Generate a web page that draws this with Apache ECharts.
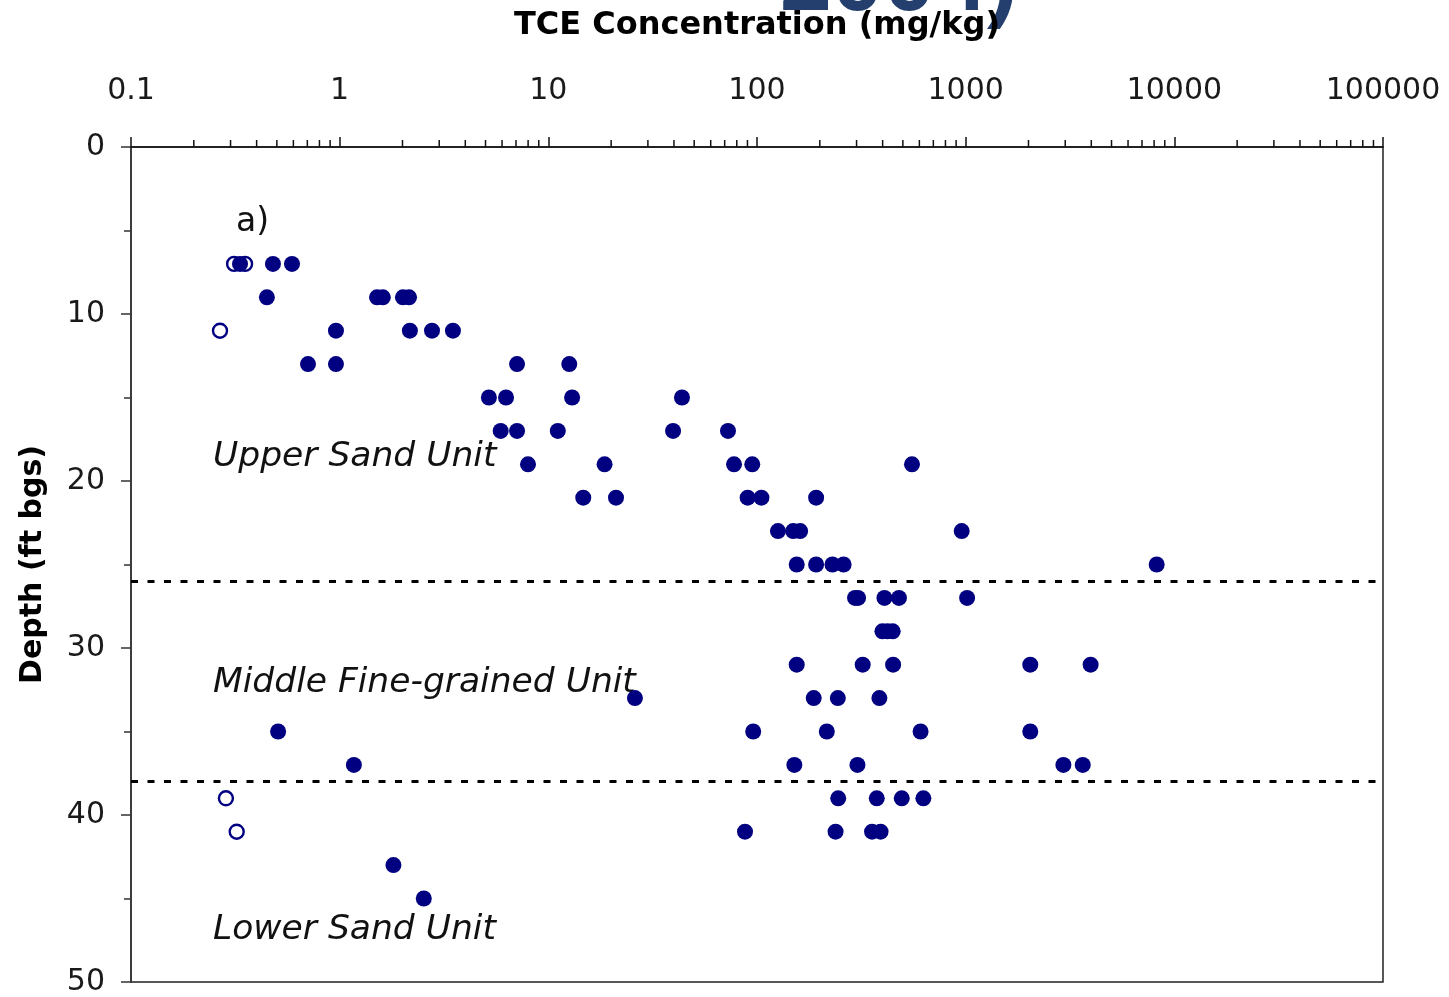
<!DOCTYPE html>
<html>
<head>
<meta charset="utf-8">
<script src="https://cdn.jsdelivr.net/npm/echarts@6/dist/echarts.min.js"></script>
<style>
  html, body { margin: 0; padding: 0; background: #fff; overflow: hidden; }
  #chart { width: 1449px; height: 997px; }
</style>
</head>
<body>
<div id="chart"></div>
<script>
// TCE concentration (mg/kg) versus sample depth (ft bgs)
const xTickLabels = ['0.1', '1', '10', '100', '1000', '10000', '100000'];

// Detected concentrations: [concentration, depth]
const detectedSamples = [
  [0.333, 7], [0.479, 7], [0.591, 7],
  [0.448, 9], [1.51, 9], [1.61, 9], [2.01, 9], [2.15, 9],
  [0.96, 11], [2.17, 11], [2.77, 11], [3.49, 11],
  [0.705, 13], [0.96, 13], [7.08, 13], [12.6, 13],
  [5.19, 15], [6.27, 15], [13.0, 15], [43.7, 15],
  [5.91, 17], [7.08, 17], [11.1, 17], [39.6, 17], [72.6, 17],
  [7.99, 19], [18.6, 19], [77.6, 19], [94.9, 19], [553, 19],
  [14.7, 21], [21.1, 21], [90.2, 21], [105, 21], [192, 21],
  [126, 23], [149, 23], [161, 23], [957, 23],
  [155, 25], [192, 25], [230, 25], [260, 25], [8230, 25],
  [295, 27], [305, 27], [408, 27], [479, 27], [1016, 27],
  [399, 29], [422, 29], [447, 29],
  [155, 31], [321, 31], [449, 31], [2040, 31], [3970, 31],
  [26.0, 33], [187, 33], [244, 33], [386, 33],
  [0.507, 35], [95.9, 35], [216, 35], [608, 35], [2040, 35],
  [1.17, 37], [151, 37], [303, 37], [2940, 37], [3640, 37],
  [245, 39], [375, 39], [494, 39], [627, 39],
  [87.6, 41], [238, 41], [356, 41], [391, 41],
  [1.81, 43],
  [2.53, 45]
];

// Non-detects / estimated values: [concentration, depth]
const nonDetectSamples = [
  [0.312, 7], [0.352, 7], [0.267, 11], [0.285, 39], [0.321, 41]
];

// Depths of the unit boundaries (ft bgs)
const unitBoundaries = [26, 38];

// Minor tick positions on the log axis (2..9 within each decade)
const xMinorTickValues = [];
for (let k = -1; k <= 4; k++) {
  for (let m = 2; m <= 9; m++) xMinorTickValues.push(m * Math.pow(10, k));
}

const NAVY = '#000080';
const LABEL_FONT = 'DejaVu Sans';

const chart = echarts.init(document.getElementById('chart'), null, { renderer: 'canvas' });

chart.setOption({
  animation: false,
  backgroundColor: '#fff',
  grid: {
    left: 131, right: 66, top: 147, bottom: 12,
    show: true, borderColor: '#222', borderWidth: 1.5,
    backgroundColor: 'transparent'
  },
  xAxis: {
    type: 'log', logBase: 10, min: 0.1, max: 100000,
    position: 'top',
    axisLine: { show: true, lineStyle: { color: '#111', width: 1.5 } },
    axisTick: { show: true, inside: false, length: 10, lineStyle: { color: '#111', width: 1.5 } },
    axisLabel: {
      margin: 41, fontSize: 30, fontFamily: LABEL_FONT, color: '#1a1a1a',
      formatter: v => xTickLabels[Math.round(Math.log10(v)) + 1]
    },
    splitLine: { show: false }
  },
  yAxis: {
    type: 'value', inverse: true, min: 0, max: 50, interval: 10,
    axisLine: { show: true, lineStyle: { color: '#333', width: 1.5 } },
    axisTick: { show: true, length: 10, lineStyle: { color: '#333', width: 1.5 } },
    minorTick: { show: true, splitNumber: 2, length: 7, lineStyle: { color: '#333', width: 1.5 } },
    axisLabel: { margin: 26, fontSize: 30, fontFamily: LABEL_FONT, color: '#1a1a1a' },
    splitLine: { show: false },
    name: 'Depth (ft bgs)', nameLocation: 'middle', nameGap: 83, nameRotate: 90,
    nameTextStyle: { fontSize: 30, fontWeight: 'bold', fontFamily: LABEL_FONT, color: '#000' }
  },
  graphic: [
    {
      type: 'text', x: 780, y: -16, z: 1,
      style: { text: '2004)', font: 'bold 93px "Liberation Sans"', fill: '#243F6E', verticalAlign: 'middle' }
    },
    {
      type: 'text', x: 757, y: 26, z: 2,
      style: { text: 'TCE Concentration (mg/kg)', font: 'bold 32px "DejaVu Sans"', fill: '#000', align: 'center', verticalAlign: 'middle' }
    },
    {
      type: 'text', x: 236, y: 222, z: 2,
      style: { text: 'a)', font: '33px "DejaVu Sans"', fill: '#111', verticalAlign: 'middle' }
    },
    {
      type: 'text', x: 213, y: 457, z: 2,
      style: { text: 'Upper Sand Unit', font: 'italic 34.5px "DejaVu Sans"', fill: '#111', verticalAlign: 'middle' }
    },
    {
      type: 'text', x: 213, y: 683, z: 2,
      style: { text: 'Middle Fine-grained Unit', font: 'italic 34.5px "DejaVu Sans"', fill: '#111', verticalAlign: 'middle' }
    },
    {
      type: 'text', x: 213, y: 930, z: 2,
      style: { text: 'Lower Sand Unit', font: 'italic 34.5px "DejaVu Sans"', fill: '#111', verticalAlign: 'middle' }
    }
  ],
  series: [
    {
      name: 'minor ticks',
      type: 'custom',
      silent: true,
      clip: false,
      data: xMinorTickValues.map(v => [v, 0]),
      renderItem: (params, api) => {
        const p = api.coord([api.value(0), api.value(1)]);
        return {
          type: 'line',
          shape: { x1: p[0], y1: p[1], x2: p[0], y2: p[1] - 7 },
          style: { stroke: '#111', lineWidth: 1.5 }
        };
      }
    },
    {
      name: 'Non-detect',
      type: 'scatter',
      symbol: 'circle',
      symbolSize: 14,
      itemStyle: { color: '#fff', borderColor: NAVY, borderWidth: 2.4, opacity: 1 },
      data: nonDetectSamples,
      markLine: {
        silent: true,
        symbol: ['none', 'none'],
        label: { show: false },
        lineStyle: { type: [7, 9.5], width: 3, color: '#000' },
        data: unitBoundaries.map(d => ({ yAxis: d }))
      }
    },
    {
      name: 'Detected',
      type: 'scatter',
      symbol: 'circle',
      symbolSize: 16,
      itemStyle: { color: NAVY, opacity: 1 },
      data: detectedSamples
    }
  ]
});
</script>
</body>
</html>
